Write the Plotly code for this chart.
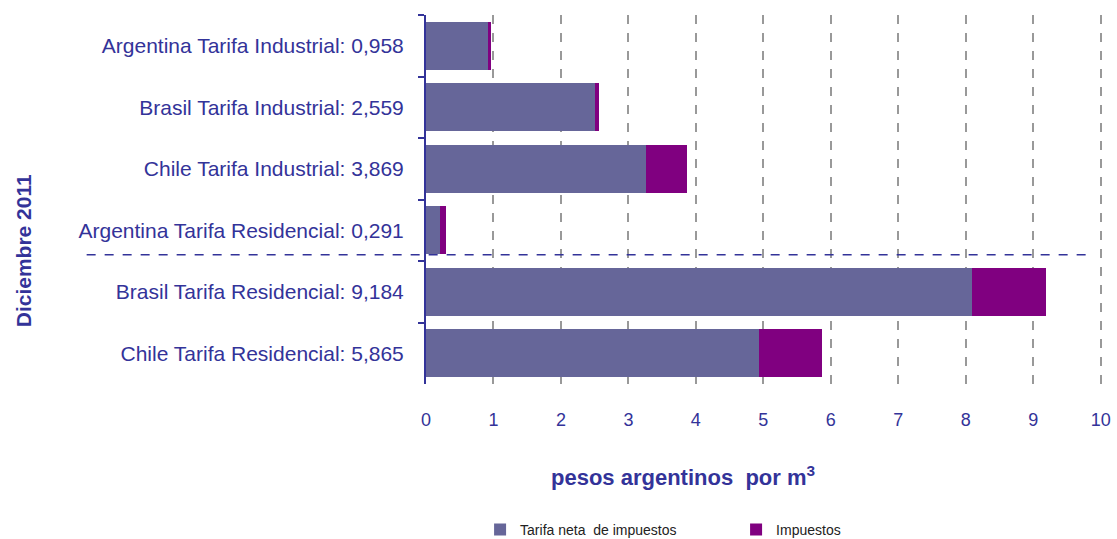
import plotly.graph_objects as go

# Tarifas de gas natural, diciembre 2011 (pesos argentinos por m3)
categorias = [
    "Argentina Tarifa Industrial: 0,958",
    "Brasil Tarifa Industrial: 2,559",
    "Chile Tarifa Industrial: 3,869",
    "Argentina Tarifa Residencial: 0,291",
    "Brasil Tarifa Residencial: 9,184",
    "Chile Tarifa Residencial: 5,865",
]
tarifa_neta = [0.930, 2.500, 3.260, 0.210, 8.100, 4.930]
impuestos = [0.028, 0.059, 0.609, 0.081, 1.084, 0.935]
ticks_x = list(range(0, 11))

AZUL = "#333399"
FUENTE = "Liberation Sans, Arial, sans-serif"

fig = go.Figure()
fig.add_trace(go.Bar(
    y=categorias, x=tarifa_neta, orientation="h",
    name="Tarifa neta  de impuestos", marker=dict(color="#666699", line=dict(width=0)),
))
fig.add_trace(go.Bar(
    y=categorias, x=impuestos, orientation="h",
    name="Impuestos", marker=dict(color="#800080", line=dict(width=0)),
))

# Separación entre tarifas industriales y residenciales
fig.add_shape(
    type="line", xref="paper", yref="y",
    x0=-0.502, x1=0.988, y0=3.4, y1=3.4,
    line=dict(color=AZUL, width=1.5, dash="dash"),
)

# Títulos de ejes
fig.add_annotation(
    text="<b>Diciembre 2011</b>", textangle=-90, showarrow=False,
    xref="paper", yref="paper", x=-0.596, y=0.36,
    xanchor="center", yanchor="middle",
    font=dict(family=FUENTE, size=21, color=AZUL),
)
fig.add_annotation(
    text="<b>pesos argentinos  por m<sup>3</sup></b>", showarrow=False,
    xref="paper", yref="paper", x=0.38, y=-0.248,
    xanchor="center", yanchor="middle",
    font=dict(family=FUENTE, size=22, color=AZUL),
)

fig.update_layout(
    barmode="stack", bargap=0.22,
    width=1117, height=539,
    margin=dict(l=426, r=15, t=15, b=155, autoexpand=False),
    paper_bgcolor="white", plot_bgcolor="white",
    font=dict(family=FUENTE, color=AZUL),
    showlegend=True,
    legend=dict(
        orientation="h", x=0.08, xanchor="left",
        yref="container", y=0.017, yanchor="middle",
        font=dict(family=FUENTE, size=14, color="#222222"),
        traceorder="normal", entrywidth=211,
    ),
    xaxis=dict(
        range=[0, 10.02], tickvals=ticks_x, ticktext=[str(t) for t in ticks_x],
        showgrid=True, gridcolor="#999999", gridwidth=1.5, griddash="dash",
        showline=False, zeroline=False, ticks="",
        ticklabelstandoff=23,
        tickfont=dict(family=FUENTE, size=18, color=AZUL),
    ),
    yaxis=dict(
        autorange="reversed", type="category",
        showline=True, linecolor=AZUL, linewidth=2,
        ticks="outside", tickson="boundaries", ticklen=6, tickcolor=AZUL, tickwidth=2,
        showgrid=False, zeroline=False,
        ticklabelstandoff=16,
        tickfont=dict(family=FUENTE, size=21, color=AZUL),
    ),
)

fig.write_html("out.html")
